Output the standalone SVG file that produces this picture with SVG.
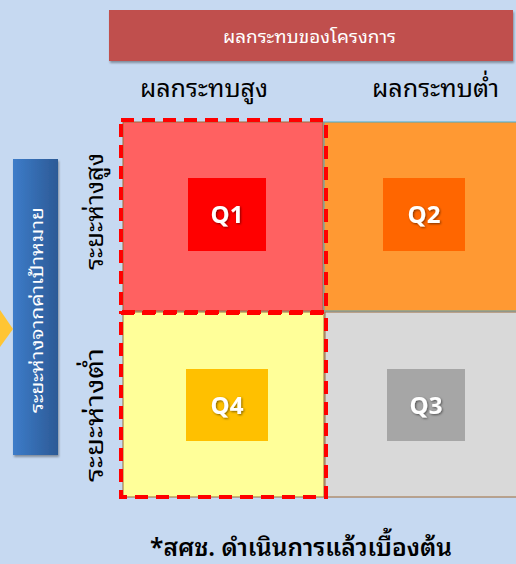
<svg xmlns="http://www.w3.org/2000/svg" width="516" height="564" viewBox="0 0 516 564">
<defs>
<linearGradient id="blueGrad" x1="0" y1="0" x2="1" y2="0">
<stop offset="0" stop-color="#3D7CC9"/>
<stop offset="1" stop-color="#2C5A96"/>
</linearGradient>
<filter id="shadow" x="-10%" y="-10%" width="130%" height="140%">
<feDropShadow dx="1" dy="2" stdDeviation="1.2" flood-color="#000" flood-opacity="0.35"/>
</filter>
<filter id="tshadow" x="-20%" y="-20%" width="150%" height="150%">
<feDropShadow dx="1" dy="1" stdDeviation="0.8" flood-color="#000" flood-opacity="0.5"/>
</filter>
</defs>
<style>
.thai{font-family:"Noto Sans Thai Looped","Noto Sans Thai","Noto Sans","DejaVu Sans",sans-serif;}
.hdr{font-size:25px;fill:#000;}
.q{font-family:"Open Sans","Noto Sans",sans-serif;font-weight:bold;font-size:24px;fill:#fff;filter:url(#tshadow);}
.dash{fill:none;stroke:#FF0000;stroke-width:4;stroke-dasharray:13 8;}
</style>
<rect x="0" y="0" width="516" height="564" fill="#C6D9F1"/>

<g id="impact-header">
<rect x="109" y="10" width="404" height="51" fill="#C0504D" filter="url(#shadow)"/>
<text x="223" y="43" class="thai" font-size="17" fill="#fff" textLength="173" lengthAdjust="spacingAndGlyphs">ผลกระทบของโครงการ</text>
</g>
<g id="col-high">
<text x="140" y="97" class="thai hdr" textLength="128" lengthAdjust="spacingAndGlyphs">ผลกระทบสูง</text>
</g>
<g id="col-low">
<text x="372" y="97" class="thai hdr" textLength="127" lengthAdjust="spacingAndGlyphs">ผลกระทบต่ำ</text>
</g>

<g id="distance-label">
<rect x="13" y="159" width="45" height="296" fill="url(#blueGrad)" filter="url(#shadow)"/>
<text transform="translate(43,413) rotate(-90)" class="thai" font-size="17" fill="#fff" textLength="206" lengthAdjust="spacingAndGlyphs">ระยะห่างจากค่าเป้าหมาย</text>
</g>
<g id="arrow-marker">
<polygon points="0,310 13,329 0,347" fill="#FFC533"/>
</g>
<g id="row-high">
<text transform="translate(103,270) rotate(-90)" class="thai hdr" textLength="117" lengthAdjust="spacingAndGlyphs">ระยะห่างสูง</text>
</g>
<g id="row-low">
<text transform="translate(103,482) rotate(-90)" class="thai hdr" textLength="134" lengthAdjust="spacingAndGlyphs">ระยะห่างต่ำ</text>
</g>

<g id="Q2">
<rect x="324" y="122" width="196" height="189" fill="#FF9933" stroke="#4BACC6" stroke-width="1"/>
<rect x="383" y="178" width="82" height="73" fill="#FF6600"/>
<text x="424" y="223" class="q" text-anchor="middle">Q2</text>
</g>
<g id="Q3">
<rect x="325" y="312" width="195" height="185" fill="#D9D9D9" stroke="#9C6B3A" stroke-width="1"/>
<rect x="387" y="369" width="78" height="72" fill="#A6A6A6"/>
<text x="426" y="414" class="q" text-anchor="middle">Q3</text>
</g>
<g id="Q4">
<rect x="123" y="312" width="201" height="185" fill="#FFFF99" stroke="#9C6B3A" stroke-width="1"/>
<rect x="186" y="369" width="82" height="72" fill="#FFC000"/>
<text x="227" y="414" class="q" text-anchor="middle">Q4</text>
</g>
<g id="Q1">
<rect x="123" y="122" width="200" height="189" fill="#FF6161" stroke="#9C6B3A" stroke-width="1"/>
<rect x="188" y="178" width="78" height="73" fill="#FF0000"/>
<text x="227" y="223" class="q" text-anchor="middle">Q1</text>
</g>

<g id="connectors">
<rect x="121" y="120" width="205" height="192" class="dash"/>
<rect x="121" y="313" width="205" height="184" class="dash"/>
</g>

<g id="footnote">
<text x="150" y="556" class="thai" font-size="25" font-weight="600" fill="#000" textLength="302" lengthAdjust="spacingAndGlyphs">*สศช. ดำเนินการแล้วเบื้องต้น</text>
</g>
</svg>
